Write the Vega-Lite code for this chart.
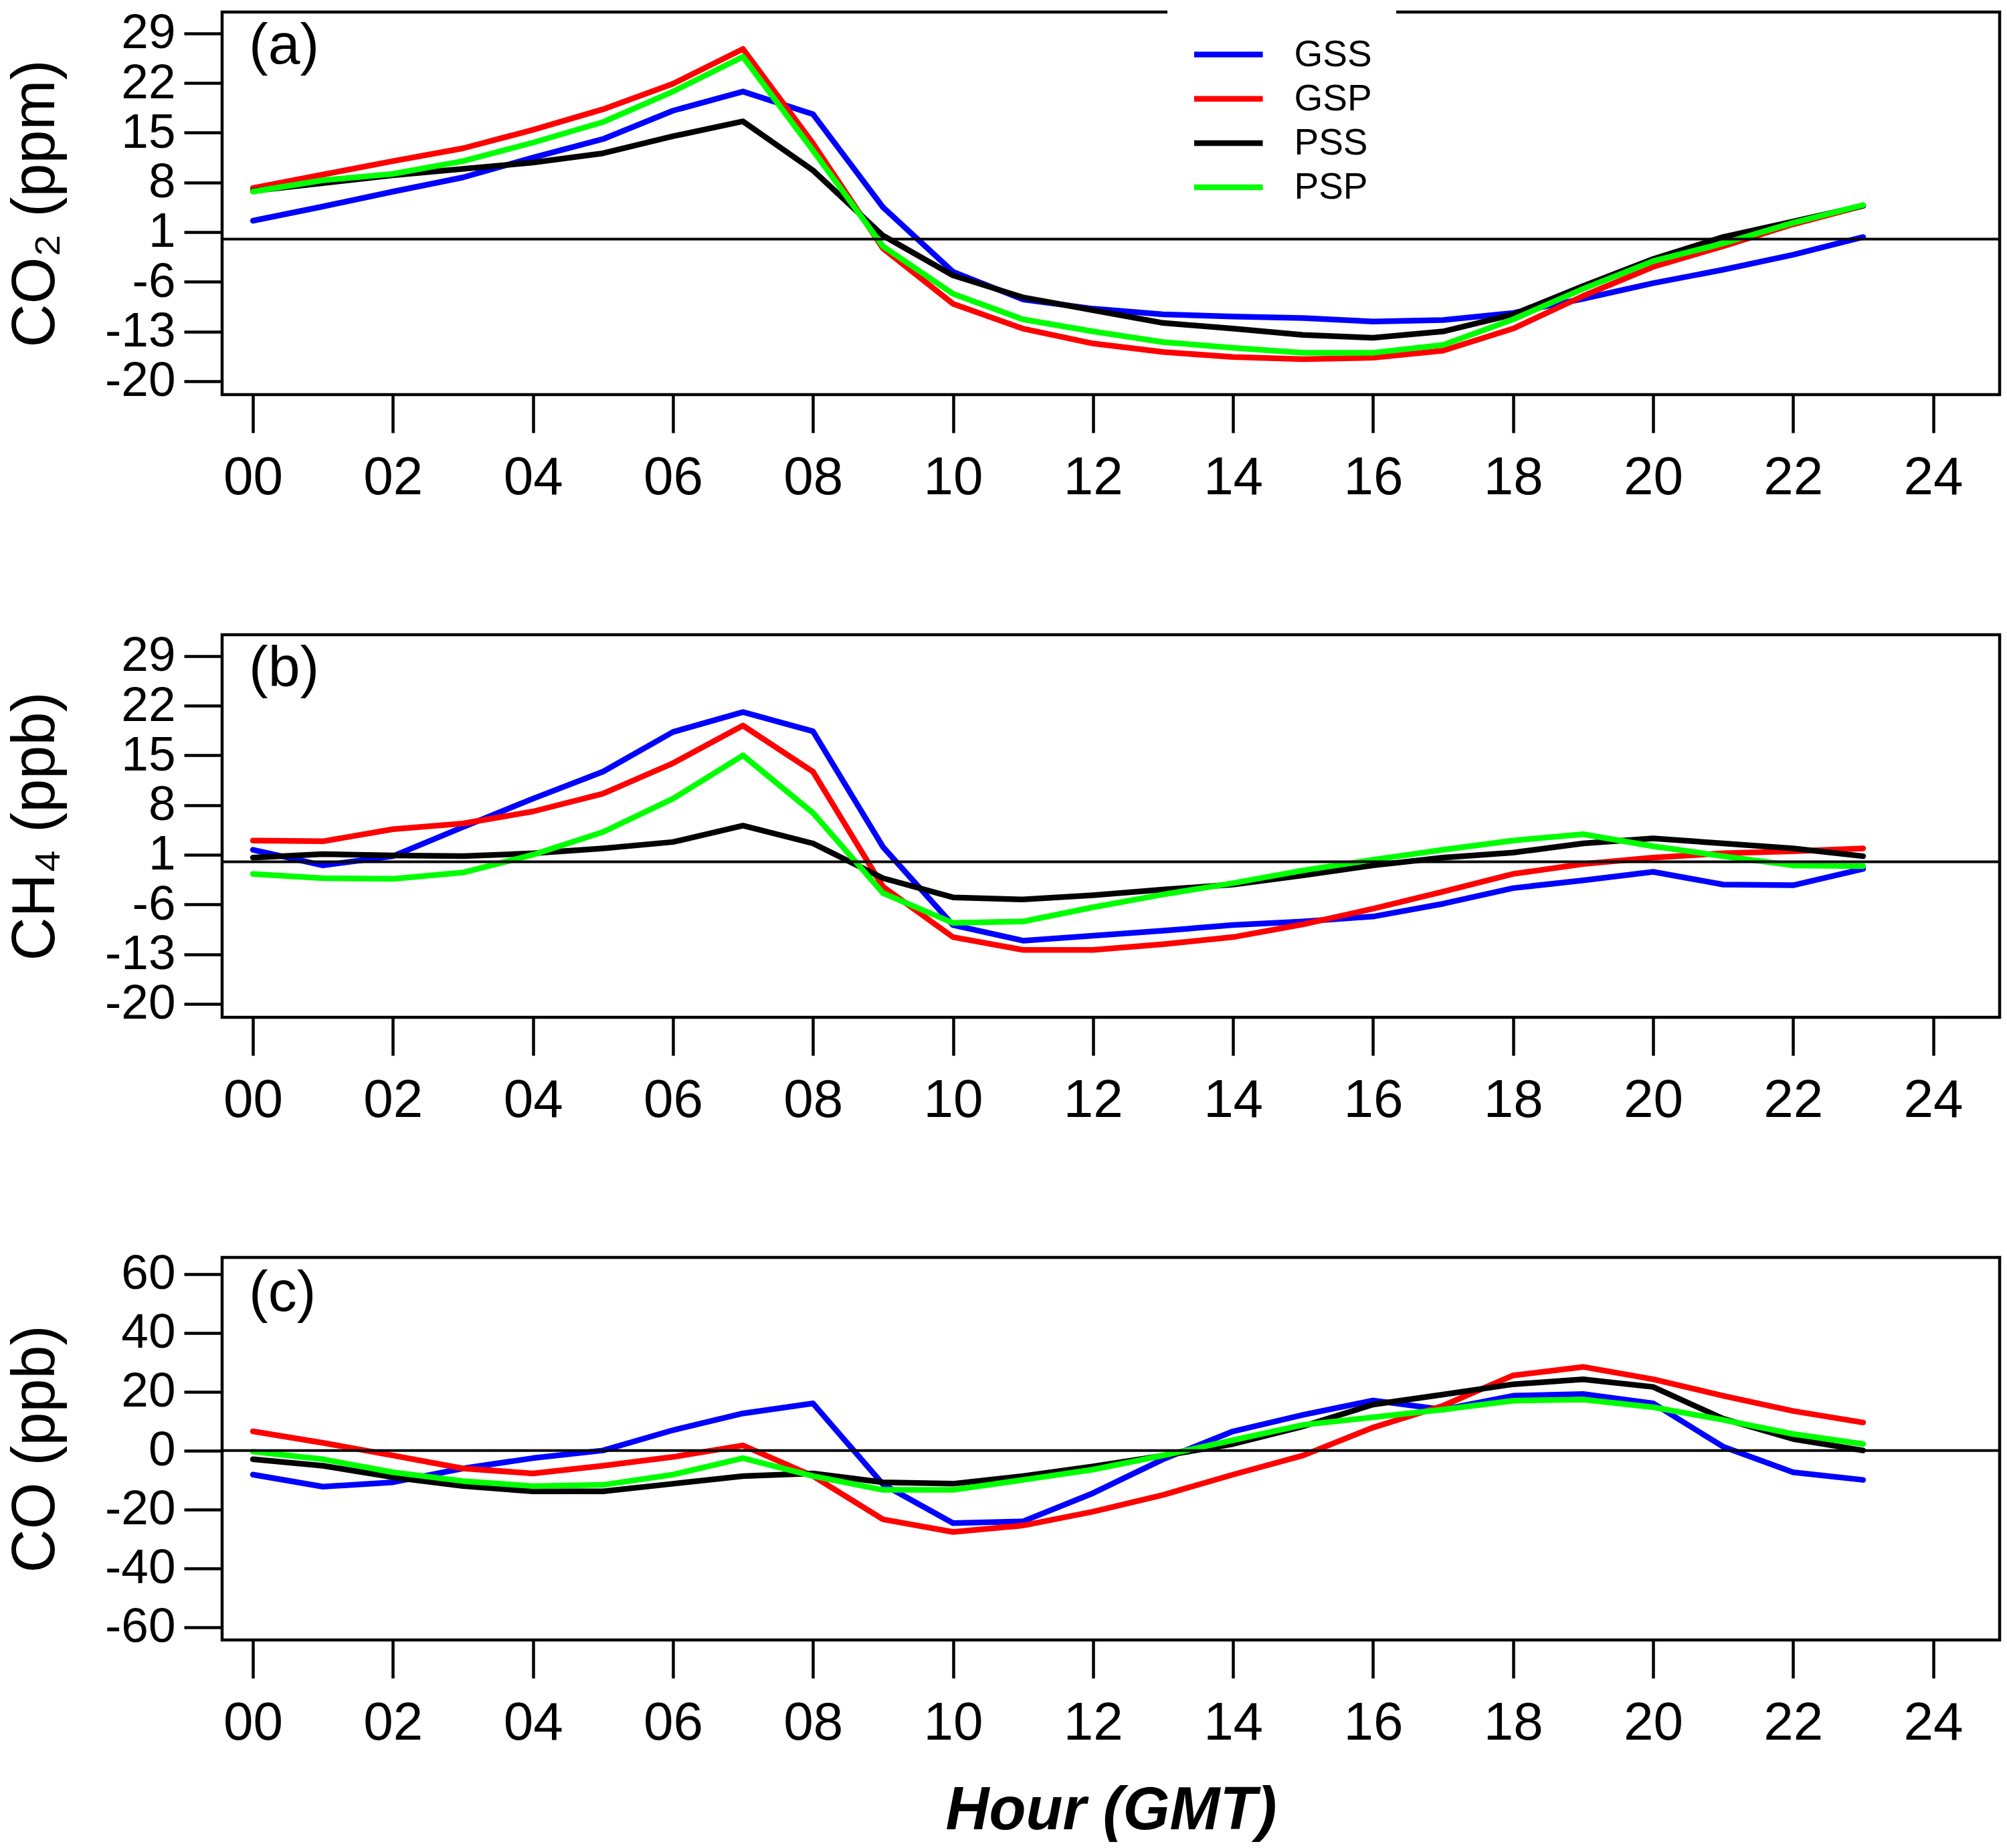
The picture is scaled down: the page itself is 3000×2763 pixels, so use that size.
{
  "$schema": "https://vega.github.io/schema/vega-lite/v6.json",
  "background": "white",
  "padding": {"left": 6, "top": 10, "right": 5, "bottom": 5},
  "config": {
    "font": "Liberation Sans",
    "view": {"stroke": "black", "strokeWidth": 4.5},
    "axis": {
      "grid": false,
      "domain": false,
      "tickColor": "black",
      "tickWidth": 4.5,
      "tickSize": 57,
      "labelColor": "black",
      "titleColor": "black",
      "labelFont": "Liberation Sans",
      "titleFont": "Liberation Sans",
      "titleFontWeight": "normal",
      "labelFlush": false,
      "labelOverlap": false,
      "labelBound": false
    },
    "axisX": {"labelFontSize": 80, "labelPadding": 28},
    "axisY": {"labelFontSize": 73, "labelPadding": 13, "titleFontSize": 90, "titlePadding": 57, "labelExpr": "'' + datum.value"}
  },
  "datasets": {
    "co2": [
      {"hour": 0, "site": "GSS", "v": 2.6}, {"hour": 1, "site": "GSS", "v": 4.6}, {"hour": 2, "site": "GSS", "v": 6.7}, {"hour": 3, "site": "GSS", "v": 8.7},
      {"hour": 4, "site": "GSS", "v": 11.5}, {"hour": 5, "site": "GSS", "v": 14.1}, {"hour": 6, "site": "GSS", "v": 18.1}, {"hour": 7, "site": "GSS", "v": 20.8},
      {"hour": 8, "site": "GSS", "v": 17.6}, {"hour": 9, "site": "GSS", "v": 4.5}, {"hour": 10, "site": "GSS", "v": -4.6}, {"hour": 11, "site": "GSS", "v": -8.5},
      {"hour": 12, "site": "GSS", "v": -9.8}, {"hour": 13, "site": "GSS", "v": -10.6}, {"hour": 14, "site": "GSS", "v": -10.9}, {"hour": 15, "site": "GSS", "v": -11.1},
      {"hour": 16, "site": "GSS", "v": -11.6}, {"hour": 17, "site": "GSS", "v": -11.4}, {"hour": 18, "site": "GSS", "v": -10.4}, {"hour": 19, "site": "GSS", "v": -8.4},
      {"hour": 20, "site": "GSS", "v": -6.2}, {"hour": 21, "site": "GSS", "v": -4.3}, {"hour": 22, "site": "GSS", "v": -2.2}, {"hour": 23, "site": "GSS", "v": 0.3},
      {"hour": 0, "site": "GSP", "v": 7.2}, {"hour": 1, "site": "GSP", "v": 9.1}, {"hour": 2, "site": "GSP", "v": 11.0}, {"hour": 3, "site": "GSP", "v": 12.8},
      {"hour": 4, "site": "GSP", "v": 15.4}, {"hour": 5, "site": "GSP", "v": 18.3}, {"hour": 6, "site": "GSP", "v": 21.9}, {"hour": 7, "site": "GSP", "v": 26.8},
      {"hour": 8, "site": "GSP", "v": 13.5}, {"hour": 9, "site": "GSP", "v": -1.3}, {"hour": 10, "site": "GSP", "v": -9.1}, {"hour": 11, "site": "GSP", "v": -12.6},
      {"hour": 12, "site": "GSP", "v": -14.7}, {"hour": 13, "site": "GSP", "v": -15.9}, {"hour": 14, "site": "GSP", "v": -16.6}, {"hour": 15, "site": "GSP", "v": -16.9},
      {"hour": 16, "site": "GSP", "v": -16.7}, {"hour": 17, "site": "GSP", "v": -15.7}, {"hour": 18, "site": "GSP", "v": -12.6}, {"hour": 19, "site": "GSP", "v": -8.0},
      {"hour": 20, "site": "GSP", "v": -3.9}, {"hour": 21, "site": "GSP", "v": -1.0}, {"hour": 22, "site": "GSP", "v": 2.1}, {"hour": 23, "site": "GSP", "v": 4.7},
      {"hour": 0, "site": "PSS", "v": 6.8}, {"hour": 1, "site": "PSS", "v": 7.9}, {"hour": 2, "site": "PSS", "v": 9.0}, {"hour": 3, "site": "PSS", "v": 9.9},
      {"hour": 4, "site": "PSS", "v": 10.8}, {"hour": 5, "site": "PSS", "v": 12.1}, {"hour": 6, "site": "PSS", "v": 14.5}, {"hour": 7, "site": "PSS", "v": 16.6},
      {"hour": 8, "site": "PSS", "v": 9.7}, {"hour": 9, "site": "PSS", "v": 0.5}, {"hour": 10, "site": "PSS", "v": -5.1}, {"hour": 11, "site": "PSS", "v": -8.2},
      {"hour": 12, "site": "PSS", "v": -10.0}, {"hour": 13, "site": "PSS", "v": -11.8}, {"hour": 14, "site": "PSS", "v": -12.6}, {"hour": 15, "site": "PSS", "v": -13.5},
      {"hour": 16, "site": "PSS", "v": -13.9}, {"hour": 17, "site": "PSS", "v": -13.0}, {"hour": 18, "site": "PSS", "v": -10.6}, {"hour": 19, "site": "PSS", "v": -6.6},
      {"hour": 20, "site": "PSS", "v": -2.8}, {"hour": 21, "site": "PSS", "v": 0.3}, {"hour": 22, "site": "PSS", "v": 2.5}, {"hour": 23, "site": "PSS", "v": 4.7},
      {"hour": 0, "site": "PSP", "v": 6.7}, {"hour": 1, "site": "PSP", "v": 8.3}, {"hour": 2, "site": "PSP", "v": 9.2}, {"hour": 3, "site": "PSP", "v": 11.0},
      {"hour": 4, "site": "PSP", "v": 13.6}, {"hour": 5, "site": "PSP", "v": 16.5}, {"hour": 6, "site": "PSP", "v": 20.8}, {"hour": 7, "site": "PSP", "v": 25.7},
      {"hour": 8, "site": "PSP", "v": 12.5}, {"hour": 9, "site": "PSP", "v": -1.0}, {"hour": 10, "site": "PSP", "v": -7.7}, {"hour": 11, "site": "PSP", "v": -11.3},
      {"hour": 12, "site": "PSP", "v": -13.0}, {"hour": 13, "site": "PSP", "v": -14.5}, {"hour": 14, "site": "PSP", "v": -15.3}, {"hour": 15, "site": "PSP", "v": -16.0},
      {"hour": 16, "site": "PSP", "v": -16.0}, {"hour": 17, "site": "PSP", "v": -14.9}, {"hour": 18, "site": "PSP", "v": -11.3}, {"hour": 19, "site": "PSP", "v": -7.0},
      {"hour": 20, "site": "PSP", "v": -3.1}, {"hour": 21, "site": "PSP", "v": -0.6}, {"hour": 22, "site": "PSP", "v": 2.3}, {"hour": 23, "site": "PSP", "v": 4.8}
    ],
    "ch4": [
      {"hour": 0, "site": "GSS", "v": 1.7}, {"hour": 1, "site": "GSS", "v": -0.5}, {"hour": 2, "site": "GSS", "v": 0.8}, {"hour": 3, "site": "GSS", "v": 4.9},
      {"hour": 4, "site": "GSS", "v": 8.9}, {"hour": 5, "site": "GSS", "v": 12.7}, {"hour": 6, "site": "GSS", "v": 18.3}, {"hour": 7, "site": "GSS", "v": 21.1},
      {"hour": 8, "site": "GSS", "v": 18.4}, {"hour": 9, "site": "GSS", "v": 2.1}, {"hour": 10, "site": "GSS", "v": -8.9}, {"hour": 11, "site": "GSS", "v": -11.1},
      {"hour": 12, "site": "GSS", "v": -10.4}, {"hour": 13, "site": "GSS", "v": -9.7}, {"hour": 14, "site": "GSS", "v": -8.9}, {"hour": 15, "site": "GSS", "v": -8.4},
      {"hour": 16, "site": "GSS", "v": -7.7}, {"hour": 17, "site": "GSS", "v": -5.9}, {"hour": 18, "site": "GSS", "v": -3.7}, {"hour": 19, "site": "GSS", "v": -2.6},
      {"hour": 20, "site": "GSS", "v": -1.4}, {"hour": 21, "site": "GSS", "v": -3.2}, {"hour": 22, "site": "GSS", "v": -3.3}, {"hour": 23, "site": "GSS", "v": -1.0},
      {"hour": 0, "site": "GSP", "v": 3.0}, {"hour": 1, "site": "GSP", "v": 2.9}, {"hour": 2, "site": "GSP", "v": 4.6}, {"hour": 3, "site": "GSP", "v": 5.4},
      {"hour": 4, "site": "GSP", "v": 7.1}, {"hour": 5, "site": "GSP", "v": 9.6}, {"hour": 6, "site": "GSP", "v": 13.9}, {"hour": 7, "site": "GSP", "v": 19.2},
      {"hour": 8, "site": "GSP", "v": 12.7}, {"hour": 9, "site": "GSP", "v": -3.5}, {"hour": 10, "site": "GSP", "v": -10.6}, {"hour": 11, "site": "GSP", "v": -12.4},
      {"hour": 12, "site": "GSP", "v": -12.4}, {"hour": 13, "site": "GSP", "v": -11.6}, {"hour": 14, "site": "GSP", "v": -10.6}, {"hour": 15, "site": "GSP", "v": -8.8},
      {"hour": 16, "site": "GSP", "v": -6.6}, {"hour": 17, "site": "GSP", "v": -4.2}, {"hour": 18, "site": "GSP", "v": -1.7}, {"hour": 19, "site": "GSP", "v": -0.3},
      {"hour": 20, "site": "GSP", "v": 0.6}, {"hour": 21, "site": "GSP", "v": 1.2}, {"hour": 22, "site": "GSP", "v": 1.5}, {"hour": 23, "site": "GSP", "v": 1.9},
      {"hour": 0, "site": "PSS", "v": 0.6}, {"hour": 1, "site": "PSS", "v": 1.1}, {"hour": 2, "site": "PSS", "v": 0.9}, {"hour": 3, "site": "PSS", "v": 0.8},
      {"hour": 4, "site": "PSS", "v": 1.2}, {"hour": 5, "site": "PSS", "v": 1.9}, {"hour": 6, "site": "PSS", "v": 2.8}, {"hour": 7, "site": "PSS", "v": 5.1},
      {"hour": 8, "site": "PSS", "v": 2.6}, {"hour": 9, "site": "PSS", "v": -2.3}, {"hour": 10, "site": "PSS", "v": -5.0}, {"hour": 11, "site": "PSS", "v": -5.3},
      {"hour": 12, "site": "PSS", "v": -4.7}, {"hour": 13, "site": "PSS", "v": -3.9}, {"hour": 14, "site": "PSS", "v": -3.2}, {"hour": 15, "site": "PSS", "v": -1.9},
      {"hour": 16, "site": "PSS", "v": -0.5}, {"hour": 17, "site": "PSS", "v": 0.6}, {"hour": 18, "site": "PSS", "v": 1.3}, {"hour": 19, "site": "PSS", "v": 2.6},
      {"hour": 20, "site": "PSS", "v": 3.3}, {"hour": 21, "site": "PSS", "v": 2.6}, {"hour": 22, "site": "PSS", "v": 1.9}, {"hour": 23, "site": "PSS", "v": 0.8},
      {"hour": 0, "site": "PSP", "v": -1.7}, {"hour": 1, "site": "PSP", "v": -2.3}, {"hour": 2, "site": "PSP", "v": -2.4}, {"hour": 3, "site": "PSP", "v": -1.5},
      {"hour": 4, "site": "PSP", "v": 1.0}, {"hour": 5, "site": "PSP", "v": 4.2}, {"hour": 6, "site": "PSP", "v": 8.9}, {"hour": 7, "site": "PSP", "v": 15.0},
      {"hour": 8, "site": "PSP", "v": 6.9}, {"hour": 9, "site": "PSP", "v": -4.4}, {"hour": 10, "site": "PSP", "v": -8.6}, {"hour": 11, "site": "PSP", "v": -8.4},
      {"hour": 12, "site": "PSP", "v": -6.4}, {"hour": 13, "site": "PSP", "v": -4.6}, {"hour": 14, "site": "PSP", "v": -3.0}, {"hour": 15, "site": "PSP", "v": -1.2},
      {"hour": 16, "site": "PSP", "v": 0.3}, {"hour": 17, "site": "PSP", "v": 1.7}, {"hour": 18, "site": "PSP", "v": 3.0}, {"hour": 19, "site": "PSP", "v": 3.9},
      {"hour": 20, "site": "PSP", "v": 2.2}, {"hour": 21, "site": "PSP", "v": 0.8}, {"hour": 22, "site": "PSP", "v": -0.5}, {"hour": 23, "site": "PSP", "v": -0.6}
    ],
    "co": [
      {"hour": 0, "site": "GSS", "v": -8.2}, {"hour": 1, "site": "GSS", "v": -12.3}, {"hour": 2, "site": "GSS", "v": -10.8}, {"hour": 3, "site": "GSS", "v": -6.1},
      {"hour": 4, "site": "GSS", "v": -2.6}, {"hour": 5, "site": "GSS", "v": 0.0}, {"hour": 6, "site": "GSS", "v": 6.9}, {"hour": 7, "site": "GSS", "v": 12.6},
      {"hour": 8, "site": "GSS", "v": 16.0}, {"hour": 9, "site": "GSS", "v": -11.5}, {"hour": 10, "site": "GSS", "v": -24.7}, {"hour": 11, "site": "GSS", "v": -24.1},
      {"hour": 12, "site": "GSS", "v": -14.5}, {"hour": 13, "site": "GSS", "v": -3.0}, {"hour": 14, "site": "GSS", "v": 6.5}, {"hour": 15, "site": "GSS", "v": 12.1},
      {"hour": 16, "site": "GSS", "v": 17.0}, {"hour": 17, "site": "GSS", "v": 13.9}, {"hour": 18, "site": "GSS", "v": 18.6}, {"hour": 19, "site": "GSS", "v": 19.2},
      {"hour": 20, "site": "GSS", "v": 16.0}, {"hour": 21, "site": "GSS", "v": 1.3}, {"hour": 22, "site": "GSS", "v": -7.4}, {"hour": 23, "site": "GSS", "v": -10.0},
      {"hour": 0, "site": "GSP", "v": 6.5}, {"hour": 1, "site": "GSP", "v": 2.6}, {"hour": 2, "site": "GSP", "v": -1.7}, {"hour": 3, "site": "GSP", "v": -6.1},
      {"hour": 4, "site": "GSP", "v": -7.8}, {"hour": 5, "site": "GSP", "v": -5.2}, {"hour": 6, "site": "GSP", "v": -2.2}, {"hour": 7, "site": "GSP", "v": 1.7},
      {"hour": 8, "site": "GSP", "v": -8.7}, {"hour": 9, "site": "GSP", "v": -23.4}, {"hour": 10, "site": "GSP", "v": -27.7}, {"hour": 11, "site": "GSP", "v": -25.5},
      {"hour": 12, "site": "GSP", "v": -20.8}, {"hour": 13, "site": "GSP", "v": -15.1}, {"hour": 14, "site": "GSP", "v": -8.2}, {"hour": 15, "site": "GSP", "v": -1.7},
      {"hour": 16, "site": "GSP", "v": 7.8}, {"hour": 17, "site": "GSP", "v": 15.2}, {"hour": 18, "site": "GSP", "v": 25.5}, {"hour": 19, "site": "GSP", "v": 28.4},
      {"hour": 20, "site": "GSP", "v": 24.2}, {"hour": 21, "site": "GSP", "v": 18.6}, {"hour": 22, "site": "GSP", "v": 13.4}, {"hour": 23, "site": "GSP", "v": 9.5},
      {"hour": 0, "site": "PSS", "v": -3.0}, {"hour": 1, "site": "PSS", "v": -5.2}, {"hour": 2, "site": "PSS", "v": -9.1}, {"hour": 3, "site": "PSS", "v": -12.1},
      {"hour": 4, "site": "PSS", "v": -13.9}, {"hour": 5, "site": "PSS", "v": -13.9}, {"hour": 6, "site": "PSS", "v": -11.3}, {"hour": 7, "site": "PSS", "v": -8.7},
      {"hour": 8, "site": "PSS", "v": -7.8}, {"hour": 9, "site": "PSS", "v": -10.8}, {"hour": 10, "site": "PSS", "v": -11.3}, {"hour": 11, "site": "PSS", "v": -8.7},
      {"hour": 12, "site": "PSS", "v": -5.4}, {"hour": 13, "site": "PSS", "v": -1.8}, {"hour": 14, "site": "PSS", "v": 2.2}, {"hour": 15, "site": "PSS", "v": 8.2},
      {"hour": 16, "site": "PSS", "v": 15.6}, {"hour": 17, "site": "PSS", "v": 19.0}, {"hour": 18, "site": "PSS", "v": 22.5}, {"hour": 19, "site": "PSS", "v": 24.2},
      {"hour": 20, "site": "PSS", "v": 21.6}, {"hour": 21, "site": "PSS", "v": 10.8}, {"hour": 22, "site": "PSS", "v": 3.9}, {"hour": 23, "site": "PSS", "v": 0.0},
      {"hour": 0, "site": "PSP", "v": -0.4}, {"hour": 1, "site": "PSP", "v": -3.0}, {"hour": 2, "site": "PSP", "v": -7.4}, {"hour": 3, "site": "PSP", "v": -10.4},
      {"hour": 4, "site": "PSP", "v": -12.1}, {"hour": 5, "site": "PSP", "v": -11.7}, {"hour": 6, "site": "PSP", "v": -8.2}, {"hour": 7, "site": "PSP", "v": -2.6},
      {"hour": 8, "site": "PSP", "v": -8.7}, {"hour": 9, "site": "PSP", "v": -13.4}, {"hour": 10, "site": "PSP", "v": -13.4}, {"hour": 11, "site": "PSP", "v": -10.0},
      {"hour": 12, "site": "PSP", "v": -6.5}, {"hour": 13, "site": "PSP", "v": -1.7}, {"hour": 14, "site": "PSP", "v": 3.5}, {"hour": 15, "site": "PSP", "v": 8.7},
      {"hour": 16, "site": "PSP", "v": 11.3}, {"hour": 17, "site": "PSP", "v": 13.9}, {"hour": 18, "site": "PSP", "v": 16.9}, {"hour": 19, "site": "PSP", "v": 17.3},
      {"hour": 20, "site": "PSP", "v": 14.7}, {"hour": 21, "site": "PSP", "v": 10.4}, {"hour": 22, "site": "PSP", "v": 5.6}, {"hour": 23, "site": "PSP", "v": 2.2}
    ]
  },
  "spacing": 359,
  "bounds": "flush",
  "resolve": {"scale": {"color": "independent"}, "legend": {"color": "independent"}},
  "vconcat": [
    {
      "width": 2657,
      "height": 572,
      "layer": [
        {
          "data": {"name": "co2"},
          "mark": {"type": "line", "strokeWidth": 8.5, "strokeCap": "round", "strokeJoin": "round"},
          "encoding": {
            "x": {"field": "hour", "type": "quantitative", "scale": {"domain": [-0.44, 24.95], "nice": false, "zero": false},
                  "axis": {"values": [0, 2, 4, 6, 8, 10, 12, 14, 16, 18, 20, 22, 24], "format": "02d", "title": null}},
            "y": {"field": "v", "type": "quantitative", "scale": {"domain": [-21.9, 32.0], "nice": false, "zero": false},
                  "axis": {"values": [-20, -13, -6, 1, 8, 15, 22, 29], "title": "CO₂ (ppm)"}},
            "color": {"field": "site", "type": "nominal",
                      "scale": {"domain": ["GSS", "GSP", "PSS", "PSP"], "range": ["#0000ff", "#ff0000", "#000000", "#00ff00"]},
                      "legend": {"orient": "none", "legendX": 1413, "legendY": -5, "title": null, "padding": 35.5,
                                 "fillColor": "white", "symbolType": "M-1,0H2.6", "symbolSize": 3249, "symbolStrokeWidth": 8.5,
                                 "labelFontSize": 55, "labelOffset": 88, "labelColor": "black", "rowPadding": 5.2}}
          }
        },
        {
          "data": {"values": [{}]},
          "mark": {"type": "rule", "color": "black", "strokeWidth": 4},
          "encoding": {"y": {"datum": 0}}
        },
        {
          "data": {"values": [{}]},
          "mark": {"type": "text", "text": "(a)", "fontSize": 86, "align": "left", "baseline": "alphabetic", "dx": -6, "color": "black"},
          "encoding": {"x": {"datum": 0}, "y": {"datum": 24.74}}
        }
      ]
    },
    {
      "width": 2657,
      "height": 572,
      "layer": [
        {
          "data": {"name": "ch4"},
          "mark": {"type": "line", "strokeWidth": 8.5, "strokeCap": "round", "strokeJoin": "round"},
          "encoding": {
            "x": {"field": "hour", "type": "quantitative", "scale": {"domain": [-0.44, 24.95], "nice": false, "zero": false},
                  "axis": {"values": [0, 2, 4, 6, 8, 10, 12, 14, 16, 18, 20, 22, 24], "format": "02d", "title": null}},
            "y": {"field": "v", "type": "quantitative", "scale": {"domain": [-21.9, 32.0], "nice": false, "zero": false},
                  "axis": {"values": [-20, -13, -6, 1, 8, 15, 22, 29], "title": "CH₄ (ppb)"}},
            "color": {"field": "site", "type": "nominal",
                      "scale": {"domain": ["GSS", "GSP", "PSS", "PSP"], "range": ["#0000ff", "#ff0000", "#000000", "#00ff00"]},
                      "legend": null}
          }
        },
        {
          "data": {"values": [{}]},
          "mark": {"type": "rule", "color": "black", "strokeWidth": 4},
          "encoding": {"y": {"datum": 0}}
        },
        {
          "data": {"values": [{}]},
          "mark": {"type": "text", "text": "(b)", "fontSize": 86, "align": "left", "baseline": "alphabetic", "dx": -6, "color": "black"},
          "encoding": {"x": {"datum": 0}, "y": {"datum": 24.74}}
        }
      ]
    },
    {
      "width": 2657,
      "height": 572,
      "layer": [
        {
          "data": {"name": "co"},
          "mark": {"type": "line", "strokeWidth": 8.5, "strokeCap": "round", "strokeJoin": "round"},
          "encoding": {
            "x": {"field": "hour", "type": "quantitative", "scale": {"domain": [-0.44, 24.95], "nice": false, "zero": false},
                  "axis": {"values": [0, 2, 4, 6, 8, 10, 12, 14, 16, 18, 20, 22, 24], "format": "02d", "title": "Hour (GMT)",
                           "titleFontSize": 90, "titleFontWeight": "bold", "titleFontStyle": "italic", "titlePadding": 47}},
            "y": {"field": "v", "type": "quantitative", "scale": {"domain": [-64.4, 65.6], "nice": false, "zero": false},
                  "axis": {"values": [-60, -40, -20, 0, 20, 40, 60], "title": "CO (ppb)"}},
            "color": {"field": "site", "type": "nominal",
                      "scale": {"domain": ["GSS", "GSP", "PSS", "PSP"], "range": ["#0000ff", "#ff0000", "#000000", "#00ff00"]},
                      "legend": null}
          }
        },
        {
          "data": {"values": [{}]},
          "mark": {"type": "rule", "color": "black", "strokeWidth": 4},
          "encoding": {"y": {"datum": 0}}
        },
        {
          "data": {"values": [{}]},
          "mark": {"type": "text", "text": "(c)", "fontSize": 86, "align": "left", "baseline": "alphabetic", "dx": -6, "color": "black"},
          "encoding": {"x": {"datum": 0}, "y": {"datum": 47.5}}
        }
      ]
    }
  ]
}
